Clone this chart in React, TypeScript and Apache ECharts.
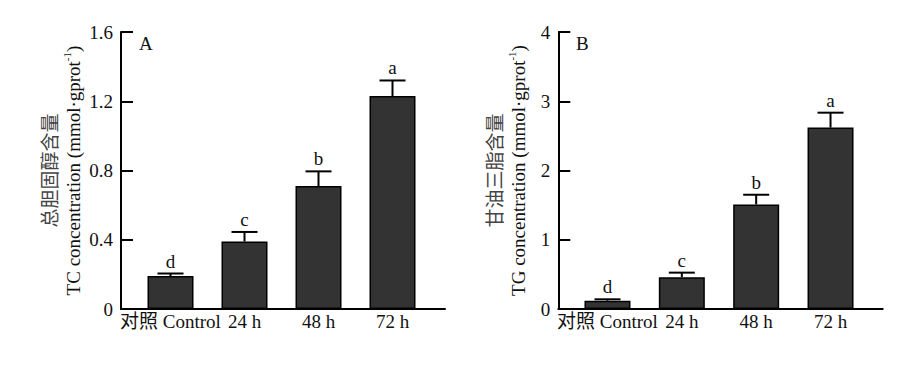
import React, { useEffect, useRef } from "react";
import * as echarts from "echarts";

const categories = ["对照 Control", "24 h", "48 h", "72 h"];
const tcMean = [0.19, 0.39, 0.71, 1.23];
const tcErr = [0.015, 0.055, 0.085, 0.09];
const tcLetters = ["d", "c", "b", "a"];
const tgMean = [0.12, 0.46, 1.51, 2.62];
const tgErr = [0.02, 0.065, 0.14, 0.215];
const tgLetters = ["d", "c", "b", "a"];
const tcTicks = { min: 0, max: 1.6, interval: 0.4 };
const tgTicks = { min: 0, max: 4, interval: 1 };

const SERIF = "'Liberation Serif', 'Times New Roman', 'Noto Sans CJK SC', serif";
const FS = 19;

function frameAxes(gridIndex: number, ticks: any, nameLines: any, nameGap: number) {
  const x = {
    type: "value",
    gridIndex,
    min: 0,
    max: 1,
    axisLine: { show: true, onZero: false, lineStyle: { color: "#000", width: 2 } },
    axisTick: { show: false },
    axisLabel: { show: false },
    splitLine: { show: false },
  };
  const y = {
    type: "value",
    gridIndex,
    min: ticks.min,
    max: ticks.max,
    interval: ticks.interval,
    name: nameLines,
    nameLocation: "middle",
    nameGap,
    nameTextStyle: {
      fontFamily: SERIF,
      fontSize: FS,
      lineHeight: 24,
      color: "#111",
      rich: {
        cn: { fontFamily: SERIF, fontSize: FS, lineHeight: 22, color: "#444" },
        en: { fontFamily: SERIF, fontSize: FS, lineHeight: 24, color: "#111" },
        sup: { fontFamily: SERIF, fontSize: 11, lineHeight: 24, verticalAlign: "top", color: "#111" },
      },
    },
    axisLine: { show: true, lineStyle: { color: "#000", width: 2 } },
    axisTick: { show: true, inside: true, length: 12, lineStyle: { color: "#000", width: 2 } },
    axisLabel: {
      fontFamily: SERIF,
      fontSize: FS,
      color: "#111",
      margin: 8,
      formatter: (v: number) => String(Number(v.toFixed(2))),
    },
    splitLine: { show: false },
  };
  return { x, y };
}

function barAxes(gridIndex: number, ticks: any) {
  const x = {
    type: "category",
    gridIndex,
    data: categories,
    axisLine: { show: false },
    axisTick: { show: false },
    axisLabel: { fontFamily: SERIF, fontSize: FS, color: "#111", margin: 3, interval: 0 },
  };
  const y = {
    type: "value",
    gridIndex,
    min: ticks.min,
    max: ticks.max,
    interval: ticks.interval,
    show: false,
  };
  return { x, y };
}

function errorSeries(axisIndex: number, means: number[], errs: number[], letters: string[]) {
  return {
    type: "custom",
    xAxisIndex: axisIndex,
    yAxisIndex: axisIndex,
    z: 5,
    data: means.map((m, i) => [i, m, m + errs[i]]),
    renderItem: (params: any, api: any) => {
      const i = api.value(0);
      const base = api.coord([i, api.value(1)]);
      const top = api.coord([i, api.value(2)]);
      const half = 13;
      return {
        type: "group",
        children: [
          {
            type: "line",
            shape: { x1: base[0], y1: base[1], x2: top[0], y2: top[1] },
            style: { stroke: "#000", lineWidth: 2 },
          },
          {
            type: "line",
            shape: { x1: top[0] - half, y1: top[1], x2: top[0] + half, y2: top[1] },
            style: { stroke: "#000", lineWidth: 2 },
          },
          {
            type: "text",
            x: top[0],
            y: top[1] - 3,
            style: {
              text: letters[i],
              font: `${FS}px ${SERIF}`,
              fill: "#111",
              align: "center",
              verticalAlign: "bottom",
            },
          },
        ],
      };
    },
  };
}

function barSeries(axisIndex: number, means: number[]) {
  return {
    type: "bar",
    xAxisIndex: axisIndex,
    yAxisIndex: axisIndex,
    data: means,
    barWidth: 46,
    itemStyle: { color: "#333333", borderColor: "#000", borderWidth: 1.5 },
  };
}

export default function App() {
  const ref = useRef<HTMLDivElement>(null);
  useEffect(() => {
    document.body.style.margin = "0";
    const chart = echarts.init(ref.current!, null, { renderer: "svg" });
    const fA = frameAxes(
      0,
      tcTicks,
      "{cn|总胆固醇含量}\n{en|TC concentration (mmol·gprot}{sup|-1}{en|)}",
      32
    );
    const bA = barAxes(1, tcTicks);
    const fB = frameAxes(
      2,
      tgTicks,
      "{cn|甘油三脂含量}\n{en|TG concentration (mmol·gprot}{sup|-1}{en|)}",
      28
    );
    const bB = barAxes(3, tgTicks);
    chart.setOption({
      animation: false,
      backgroundColor: "#fff",
      grid: [
        { left: 121, right: 468, top: 32, bottom: 56 },
        { left: 133.5, width: 296, top: 32, bottom: 56 },
        { left: 558.3, right: 30.3, top: 32, bottom: 56 },
        { left: 570.3, width: 297.4, top: 32, bottom: 56 },
      ],
      xAxis: [fA.x, bA.x, fB.x, bB.x],
      yAxis: [fA.y, bA.y, fB.y, bB.y],
      graphic: [
        { type: "text", left: 139, top: 34, style: { text: "A", font: `${FS}px ${SERIF}`, fill: "#111" } },
        { type: "text", left: 576, top: 34, style: { text: "B", font: `${FS}px ${SERIF}`, fill: "#111" } },
      ],
      series: [
        barSeries(1, tcMean),
        errorSeries(1, tcMean, tcErr, tcLetters),
        barSeries(3, tgMean),
        errorSeries(3, tgMean, tgErr, tgLetters),
      ],
    });
    return () => chart.dispose();
  }, []);
  return <div ref={ref} style={{ width: 913, height: 365 }} />;
}
